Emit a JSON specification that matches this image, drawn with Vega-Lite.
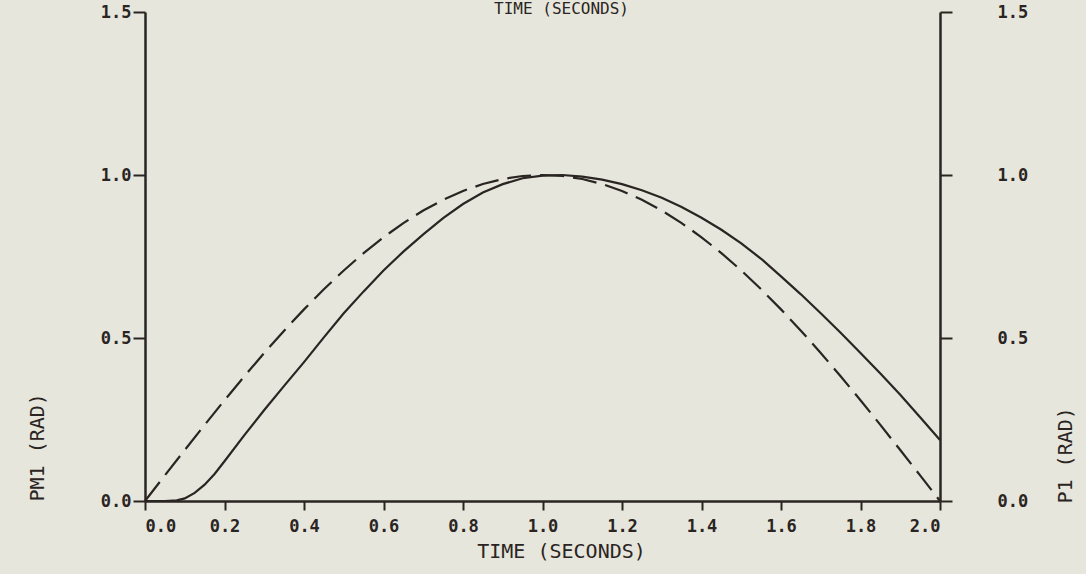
{
  "$schema": "https://vega.github.io/schema/vega-lite/v6.json",
  "autosize": "none",
  "width": 795,
  "height": 489,
  "padding": {"top": 12, "left": 145, "right": 146, "bottom": 73},
  "background": "#e6e6dc",
  "title": {"text": "TIME (SECONDS)", "font": "DejaVu Sans Mono", "fontSize": 16, "fontWeight": "normal", "color": "#2a2422", "anchor": "middle", "frame": "group", "dx": 19, "baseline": "bottom", "offset": -30},
  "config": {
    "view": {"stroke": null},
    "axis": {
      "labelFont": "DejaVu Sans Mono", "labelFontSize": 17, "labelFontWeight": "bold", "labelColor": "#2a2422",
      "titleFont": "DejaVu Sans Mono", "titleFontSize": 20, "titleFontWeight": "normal", "titleColor": "#2a2422",
      "domainColor": "#2a2422", "domainWidth": 2.5, "tickColor": "#2a2422", "tickWidth": 2, "grid": false
    }
  },
  "data": {"values": [
    {"t": 0.0, "s": "PM1", "v": 0.0}, {"t": 0.05, "s": "PM1", "v": 0.0785}, {"t": 0.1, "s": "PM1", "v": 0.1564},
    {"t": 0.15, "s": "PM1", "v": 0.2334}, {"t": 0.2, "s": "PM1", "v": 0.309}, {"t": 0.25, "s": "PM1", "v": 0.3827},
    {"t": 0.3, "s": "PM1", "v": 0.454}, {"t": 0.35, "s": "PM1", "v": 0.5225}, {"t": 0.4, "s": "PM1", "v": 0.5878},
    {"t": 0.45, "s": "PM1", "v": 0.6494}, {"t": 0.5, "s": "PM1", "v": 0.7071}, {"t": 0.55, "s": "PM1", "v": 0.7604},
    {"t": 0.6, "s": "PM1", "v": 0.809}, {"t": 0.65, "s": "PM1", "v": 0.8526}, {"t": 0.7, "s": "PM1", "v": 0.891},
    {"t": 0.75, "s": "PM1", "v": 0.9239}, {"t": 0.8, "s": "PM1", "v": 0.9511}, {"t": 0.85, "s": "PM1", "v": 0.9724},
    {"t": 0.9, "s": "PM1", "v": 0.9877}, {"t": 0.95, "s": "PM1", "v": 0.9969}, {"t": 1.0, "s": "PM1", "v": 1.0},
    {"t": 1.05, "s": "PM1", "v": 0.9969}, {"t": 1.1, "s": "PM1", "v": 0.9877}, {"t": 1.15, "s": "PM1", "v": 0.9724},
    {"t": 1.2, "s": "PM1", "v": 0.9511}, {"t": 1.25, "s": "PM1", "v": 0.9239}, {"t": 1.3, "s": "PM1", "v": 0.891},
    {"t": 1.35, "s": "PM1", "v": 0.8526}, {"t": 1.4, "s": "PM1", "v": 0.809}, {"t": 1.45, "s": "PM1", "v": 0.7604},
    {"t": 1.5, "s": "PM1", "v": 0.7071}, {"t": 1.55, "s": "PM1", "v": 0.6494}, {"t": 1.6, "s": "PM1", "v": 0.5878},
    {"t": 1.65, "s": "PM1", "v": 0.5225}, {"t": 1.7, "s": "PM1", "v": 0.454}, {"t": 1.75, "s": "PM1", "v": 0.3827},
    {"t": 1.8, "s": "PM1", "v": 0.309}, {"t": 1.85, "s": "PM1", "v": 0.2334}, {"t": 1.9, "s": "PM1", "v": 0.1564},
    {"t": 1.95, "s": "PM1", "v": 0.0785}, {"t": 2.0, "s": "PM1", "v": 0.0},
    {"t": 0.0, "s": "P1", "v": 0.0}, {"t": 0.05, "s": "P1", "v": 0.0}, {"t": 0.08, "s": "P1", "v": 0.002},
    {"t": 0.1, "s": "P1", "v": 0.008}, {"t": 0.125, "s": "P1", "v": 0.025}, {"t": 0.15, "s": "P1", "v": 0.05},
    {"t": 0.175, "s": "P1", "v": 0.083}, {"t": 0.2, "s": "P1", "v": 0.122}, {"t": 0.25, "s": "P1", "v": 0.202},
    {"t": 0.3, "s": "P1", "v": 0.279}, {"t": 0.35, "s": "P1", "v": 0.353}, {"t": 0.4, "s": "P1", "v": 0.426},
    {"t": 0.45, "s": "P1", "v": 0.502}, {"t": 0.5, "s": "P1", "v": 0.576}, {"t": 0.55, "s": "P1", "v": 0.643},
    {"t": 0.6, "s": "P1", "v": 0.707}, {"t": 0.65, "s": "P1", "v": 0.765}, {"t": 0.7, "s": "P1", "v": 0.818},
    {"t": 0.75, "s": "P1", "v": 0.868}, {"t": 0.8, "s": "P1", "v": 0.911}, {"t": 0.85, "s": "P1", "v": 0.946},
    {"t": 0.9, "s": "P1", "v": 0.972}, {"t": 0.95, "s": "P1", "v": 0.99}, {"t": 1.0, "s": "P1", "v": 0.998},
    {"t": 1.05, "s": "P1", "v": 1.0}, {"t": 1.1, "s": "P1", "v": 0.995}, {"t": 1.15, "s": "P1", "v": 0.986},
    {"t": 1.2, "s": "P1", "v": 0.972}, {"t": 1.25, "s": "P1", "v": 0.953}, {"t": 1.3, "s": "P1", "v": 0.93},
    {"t": 1.35, "s": "P1", "v": 0.902}, {"t": 1.4, "s": "P1", "v": 0.869}, {"t": 1.45, "s": "P1", "v": 0.832},
    {"t": 1.5, "s": "P1", "v": 0.79}, {"t": 1.55, "s": "P1", "v": 0.743}, {"t": 1.6, "s": "P1", "v": 0.689},
    {"t": 1.65, "s": "P1", "v": 0.634}, {"t": 1.7, "s": "P1", "v": 0.576}, {"t": 1.75, "s": "P1", "v": 0.516},
    {"t": 1.8, "s": "P1", "v": 0.454}, {"t": 1.85, "s": "P1", "v": 0.391}, {"t": 1.9, "s": "P1", "v": 0.326},
    {"t": 1.95, "s": "P1", "v": 0.257}, {"t": 2.0, "s": "P1", "v": 0.187}
  ]},
  "encoding": {
    "x": {"field": "t", "type": "quantitative", "scale": {"domain": [0, 2.0], "nice": false},
      "axis": {"values": [0, 0.2, 0.4, 0.6, 0.8, 1.0, 1.2, 1.4, 1.6, 1.8, 2.0], "format": ".1f", "tickSize": 9, "labelPadding": 8,
        "title": "TIME (SECONDS)", "titleX": 416, "titleY": 56, "titleBaseline": "alphabetic", "titleAlign": "center"}}
  },
  "layer": [
    {
      "transform": [{"filter": "datum.s === 'PM1'"}],
      "mark": {"type": "line", "color": "#2a2422", "strokeWidth": 2.2, "strokeDash": [24, 9], "clip": false},
      "encoding": {
        "y": {"field": "v", "type": "quantitative", "scale": {"domain": [0, 1.5], "nice": false},
          "axis": {"orient": "left", "values": [0, 0.5, 1.0, 1.5], "format": ".1f", "tickSize": 12, "labelPadding": 2,
            "title": "PM1 (RAD)", "titleAngle": 270, "titleAlign": "left", "titleBaseline": "middle", "titleX": -108, "titleY": 489}}
      }
    },
    {
      "transform": [{"filter": "datum.s === 'P1'"}],
      "mark": {"type": "line", "color": "#2a2422", "strokeWidth": 2.2, "clip": false},
      "encoding": {
        "y": {"field": "v", "type": "quantitative", "scale": {"domain": [0, 1.5], "nice": false},
          "axis": {"orient": "right", "values": [0, 0.5, 1.0, 1.5], "format": ".1f", "tickSize": 12, "labelPadding": 45,
            "title": "P1 (RAD)", "titleAngle": 270, "titleAlign": "left", "titleBaseline": "middle", "titleX": 125, "titleY": 491}}
      }
    }
  ],
  "resolve": {"scale": {"y": "independent"}}
}
